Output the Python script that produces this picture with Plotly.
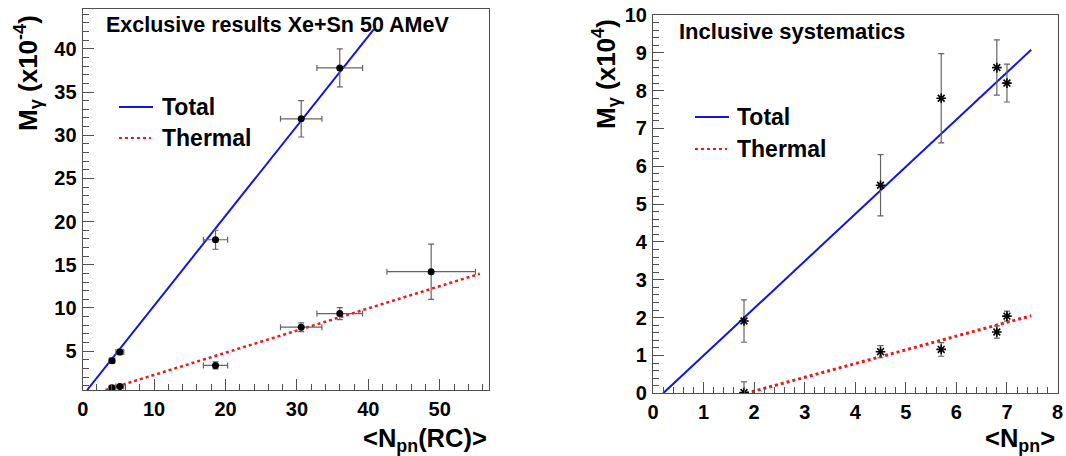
import plotly.graph_objects as go

W, H = 1066, 456

# ---------------- exclusive data (left panel) ----------------
excl_npn = [4.1, 5.2, 18.6, 30.6, 36.0]
excl_npn_err = [0.4, 0.55, 1.7, 2.9, 3.2]
excl_total = [3.9, 4.9, 17.9, 31.9, 37.8]
excl_total_err = [0.3, 0.3, 1.1, 2.1, 2.2]

excl_th_npn = [4.1, 5.2, 18.6, 30.6, 36.0, 48.8]
excl_th_npn_err = [0.4, 0.55, 1.7, 2.9, 3.2, 6.2]
excl_thermal = [0.76, 0.9, 3.35, 7.77, 9.35, 14.2]
excl_thermal_err = [0.2, 0.2, 0.4, 0.5, 0.7, 3.2]

# linear fit end points
excl_total_fit_x = [0.62, 40.76]
excl_total_fit_y = [0.5, 42.27]
excl_thermal_fit_x = [3.2, 55.6]
excl_thermal_fit_y = [0.5, 13.96]

# ---------------- inclusive data (right panel) ----------------
incl_npn = [1.8, 4.5, 5.7, 6.8, 7.0]
incl_total = [1.91, 5.50, 7.80, 8.61, 8.20]
incl_total_err = [0.56, 0.81, 1.18, 0.73, 0.50]
incl_thermal = [0.02, 1.10, 1.16, 1.62, 2.04]
incl_thermal_err = [0.28, 0.16, 0.18, 0.16, 0.13]

incl_total_fit_x = [0.2, 7.48]
incl_total_fit_y = [0.0, 9.08]
incl_thermal_fit_x = [1.84, 7.48]
incl_thermal_fit_y = [0.0, 2.05]

left_xticks = [0, 10, 20, 30, 40, 50]
left_yticks = [5, 10, 15, 20, 25, 30, 35, 40]
right_xticks = [0, 1, 2, 3, 4, 5, 6, 7, 8]
right_yticks = [0, 1, 2, 3, 4, 5, 6, 7, 8, 9, 10]

BLUE = "rgb(20,20,225)"
RED = "rgb(235,25,25)"
ERRC = "rgb(100,100,100)"
AXC = "rgb(80,80,80)"
FONT = "Liberation Sans"


def px(x):
    return x / W


def py(y):
    return 1 - y / H


fig = go.Figure()

# fit lines
fig.add_trace(go.Scatter(x=excl_total_fit_x, y=excl_total_fit_y, mode="lines",
                         line=dict(color=BLUE, width=2), xaxis="x", yaxis="y",
                         showlegend=False))
fig.add_trace(go.Scatter(x=excl_thermal_fit_x, y=excl_thermal_fit_y, mode="lines",
                         line=dict(color=RED, width=2.5, dash="dot"), xaxis="x", yaxis="y",
                         showlegend=False))
fig.add_trace(go.Scatter(x=incl_total_fit_x, y=incl_total_fit_y, mode="lines",
                         line=dict(color=BLUE, width=2), xaxis="x2", yaxis="y2",
                         showlegend=False))
fig.add_trace(go.Scatter(x=incl_thermal_fit_x, y=incl_thermal_fit_y, mode="lines",
                         line=dict(color=RED, width=3, dash="dot"), xaxis="x2", yaxis="y2",
                         showlegend=False))

# exclusive points
for xs, xe, ys, ye in [(excl_npn, excl_npn_err, excl_total, excl_total_err),
                       (excl_th_npn, excl_th_npn_err, excl_thermal, excl_thermal_err)]:
    fig.add_trace(go.Scatter(
        x=xs, y=ys, mode="markers", xaxis="x", yaxis="y", showlegend=False,
        marker=dict(symbol="circle", size=7, color="black"),
        error_x=dict(type="data", array=xe, color=ERRC, thickness=1.2, width=3),
        error_y=dict(type="data", array=ye, color=ERRC, thickness=1.2, width=3),
    ))

# inclusive points
for ys, ye in [(incl_total, incl_total_err), (incl_thermal, incl_thermal_err)]:
    fig.add_trace(go.Scatter(
        x=incl_npn, y=ys, mode="markers", xaxis="x2", yaxis="y2", showlegend=False,
        marker=dict(symbol="asterisk-open", size=8, color="black",
                    line=dict(color="black", width=1.6)),
        error_y=dict(type="data", array=ye, color=ERRC, thickness=1.2, width=3),
    ))

tickfont = dict(family=FONT, size=20, color="black", weight="bold")


def axis(domain, rng, tickvals, minor_dtick, anchor):
    return dict(
        domain=domain, range=rng, anchor=anchor, tickmode="array", tickvals=tickvals,
        ticks="inside", ticklen=11, tickwidth=1, tickcolor=AXC,
        minor=dict(ticks="inside", ticklen=6, dtick=minor_dtick, tick0=0,
                   tickcolor=AXC, tickwidth=1),
        showline=True, linecolor=AXC, linewidth=1.2, mirror=True,
        showgrid=False, zeroline=False, tickfont=tickfont, automargin=False,
        ticklabelstandoff=1,
    )


layout = dict(
    width=W, height=H, margin=dict(l=0, r=0, t=0, b=0),
    paper_bgcolor="white", plot_bgcolor="white", showlegend=False,
    xaxis=axis([px(82.7), px(489)], [0, 56.9], left_xticks, 2, "y"),
    yaxis=axis([py(390), py(9)], [0.5, 44.62], left_yticks, 1, "x"),
    xaxis2=axis([px(653), px(1057.5)], [0, 8], right_xticks, 0.2, "y2"),
    yaxis2=axis([py(393.3), py(15)], [0, 10], right_yticks, 0.2, "x2"),
)
fig.update_layout(**layout)

ann = []


def text(x, y, s, size, xanchor="left", yanchor="middle", angle=0):
    ann.append(dict(x=px(x), y=py(y), xref="paper", yref="paper", text=s,
                    showarrow=False, xanchor=xanchor, yanchor=yanchor, textangle=angle,
                    font=dict(family=FONT, size=size, color="black", weight="bold")))


# panel headers
text(104, 25, "Exclusive results Xe+Sn 50 AMeV", 21.5)
text(677, 31, "Inclusive systematics", 22)

# axis titles
text(489, 440, "&lt;N<sub>pn</sub>(RC)&gt;", 25.5, xanchor="right")
text(1057, 440, "&lt;N<sub>pn</sub>&gt;", 25.5, xanchor="right")
text(28, 73, "M<sub>γ</sub> (x10<sup>-4</sup>)", 26, xanchor="center", angle=-90)
text(606, 74, "M<sub>γ</sub> (x10<sup>4</sup>)", 26, xanchor="center", angle=-90)

# legends
shapes = []
for (x0, x1, ytot, yth, xt) in [(119, 153, 107, 138, 160), (695, 729, 117, 149, 735)]:
    shapes.append(dict(type="line", xref="paper", yref="paper", x0=px(x0), x1=px(x1),
                       y0=py(ytot), y1=py(ytot), line=dict(color=BLUE, width=2)))
    shapes.append(dict(type="line", xref="paper", yref="paper", x0=px(x0), x1=px(x1 - 2),
                       y0=py(yth), y1=py(yth), line=dict(color=RED, width=2, dash="dot")))
    text(xt, ytot, "Total", 23)
    text(xt, yth, "Thermal", 23)

fig.update_layout(annotations=ann, shapes=shapes)
fig.write_html("out.html")
